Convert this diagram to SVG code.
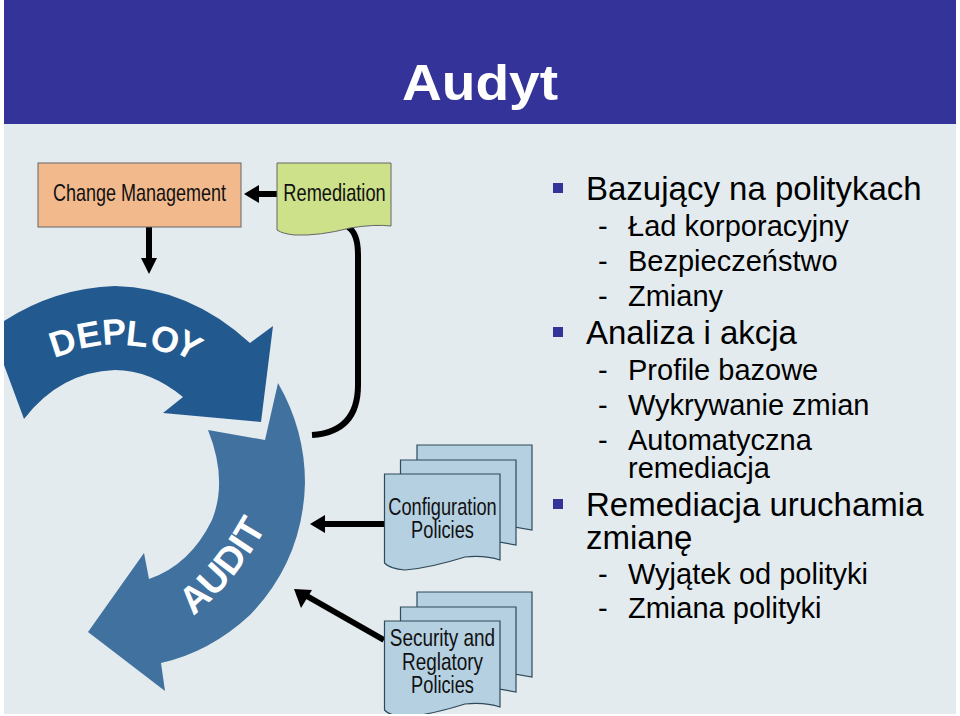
<svg xmlns="http://www.w3.org/2000/svg" xmlns:xlink="http://www.w3.org/1999/xlink" width="960" height="716" viewBox="0 0 960 716">
<style>
.lb{font-family:"Liberation Sans",Arial,sans-serif;fill:#000}
.h1{font-size:33px}
.h2{font-size:29px}
.nt{font-family:"Liberation Sans",Arial,sans-serif;font-size:24px;fill:#111;text-anchor:middle}
.cv{font-family:"Liberation Sans",Arial,sans-serif;font-weight:700;fill:#fff}
.doc{fill:#b5d0e0;stroke:#2f4a5a;stroke-width:1.2}
.ln{fill:none;stroke:#000;stroke-width:6}
.hd{fill:#000}
.bl{fill:#333399}
</style>
<defs>
<path id="ap" d="M193 616 Q240 578 270 520"/>
</defs>
<rect width="960" height="716" fill="#fff"/>
<rect x="4" y="124" width="952" height="590" fill="#e4ebee"/>
<rect x="4" y="0" width="952" height="124" fill="#333399"/>
<text class="cv" x="480" y="100" font-size="50" text-anchor="middle" textLength="156" lengthAdjust="spacingAndGlyphs">Audyt</text>

<g id="audit">
<path d="M278 383 Q305 430 305 483 Q303 560 250 615 Q210 652 161 663 L165 691 L88 632 L144 553 L149 579 Q190 565 212 520 Q228 480 208 430 L265 440 Z" fill="#41719f"/>
<text class="cv" font-size="38"><textPath xlink:href="#ap" href="#ap">AUDIT</textPath></text>
</g>
<g id="deploy">
<path d="M4 321 Q55 288 115 286 Q190 288 250 343 L273 326 L261 422 L163 413 L183 397 Q150 370 115 370 Q60 372 24 419 L4 365 Z" fill="#22598f"/>
<text class="cv" font-size="36" x="54 79 103 125 148 172" y="358 349 345 345 347 350" rotate="-18 -10 -4 6 18 30">DEPLOY</text>
</g>

<g id="connectors">
<path class="ln" d="M277 194 H254"/><path class="hd" d="M244 194 L259 185 V203 Z"/>
<path class="ln" d="M149 227 V260"/><path class="hd" d="M149 274 L141 258 H157 Z"/>
<path class="ln" d="M348 227 Q358 233 358 255 V385 Q358 432 312 435"/>
<path class="ln" d="M384 524 H322"/><path class="hd" d="M310 524 L325 515 V533 Z"/>
<path class="ln" d="M384 640 L305 595"/><path class="hd" d="M294 589 L312 590 L301 608 Z"/>
</g>

<g id="change-management">
<rect x="38" y="163" width="203" height="64" fill="#f2b98d" stroke="#666" stroke-width="1"/>
<text class="nt" transform="translate(139.500 201) scale(.75 1)">Change Management</text>
</g>
<g id="remediation">
<path d="M277 163 H391 V226 Q375 224 350 228 Q320 236 295 235 Q283 234 277 230 Z" fill="#cde08a" stroke="#666" stroke-width="1"/>
<text class="nt" transform="translate(334.500 201) scale(.76 1)">Remediation</text>
</g>

<g id="configuration-policies">
<path class="doc" d="M417 445 H532 V530 L417 510 Z"/>
<path class="doc" d="M400.500 460 H516 V545 L400.500 525 Z"/>
<path class="doc" d="M384.500 474 H500 V560 Q485 555 465 557 Q430 568 405 570 Q390 569 384.500 563 Z"/>
<text class="nt" transform="translate(442.500 515) scale(.76 1)">Configuration</text>
<text class="nt" transform="translate(442.500 538) scale(.76 1)">Policies</text>
</g>
<g id="security-policies">
<path class="doc" d="M417 592 H532 V677 L417 657 Z"/>
<path class="doc" d="M400.500 607 H516 V692 L400.500 672 Z"/>
<path class="doc" d="M384.500 621 H500 V707 Q485 702 465 704 Q430 715 405 717 Q390 716 384.500 710 Z"/>
<text class="nt" transform="translate(442.500 646) scale(.79 1)">Security and</text>
<text class="nt" transform="translate(442.500 670) scale(.79 1)">Reglatory</text>
<text class="nt" transform="translate(442.500 693) scale(.76 1)">Policies</text>
</g>
<rect x="0" y="714" width="960" height="2" fill="#fff"/>

<g id="text">
<rect class="bl" x="553" y="183" width="10" height="10"/>
<rect class="bl" x="553" y="327" width="10" height="10"/>
<rect class="bl" x="553" y="499" width="10" height="10"/>
<text class="lb h1" x="586" y="200">Bazujący na politykach</text>
<text class="lb h2" x="598" y="236">-</text><text class="lb h2" x="628" y="236">Ład korporacyjny</text>
<text class="lb h2" x="598" y="271">-</text><text class="lb h2" x="628" y="271">Bezpieczeństwo</text>
<text class="lb h2" x="598" y="306">-</text><text class="lb h2" x="628" y="306">Zmiany</text>
<text class="lb h1" x="586" y="344">Analiza i akcja</text>
<text class="lb h2" x="598" y="380">-</text><text class="lb h2" x="628" y="380">Profile bazowe</text>
<text class="lb h2" x="598" y="415">-</text><text class="lb h2" x="628" y="415">Wykrywanie zmian</text>
<text class="lb h2" x="598" y="450">-</text><text class="lb h2" x="628" y="450">Automatyczna</text>
<text class="lb h2" x="628" y="478">remediacja</text>
<text class="lb h1" x="586" y="516">Remediacja uruchamia</text>
<text class="lb h1" x="586" y="549">zmianę</text>
<text class="lb h2" x="598" y="584">-</text><text class="lb h2" x="628" y="584">Wyjątek od polityki</text>
<text class="lb h2" x="598" y="618">-</text><text class="lb h2" x="628" y="618">Zmiana polityki</text>
</g>
</svg>
